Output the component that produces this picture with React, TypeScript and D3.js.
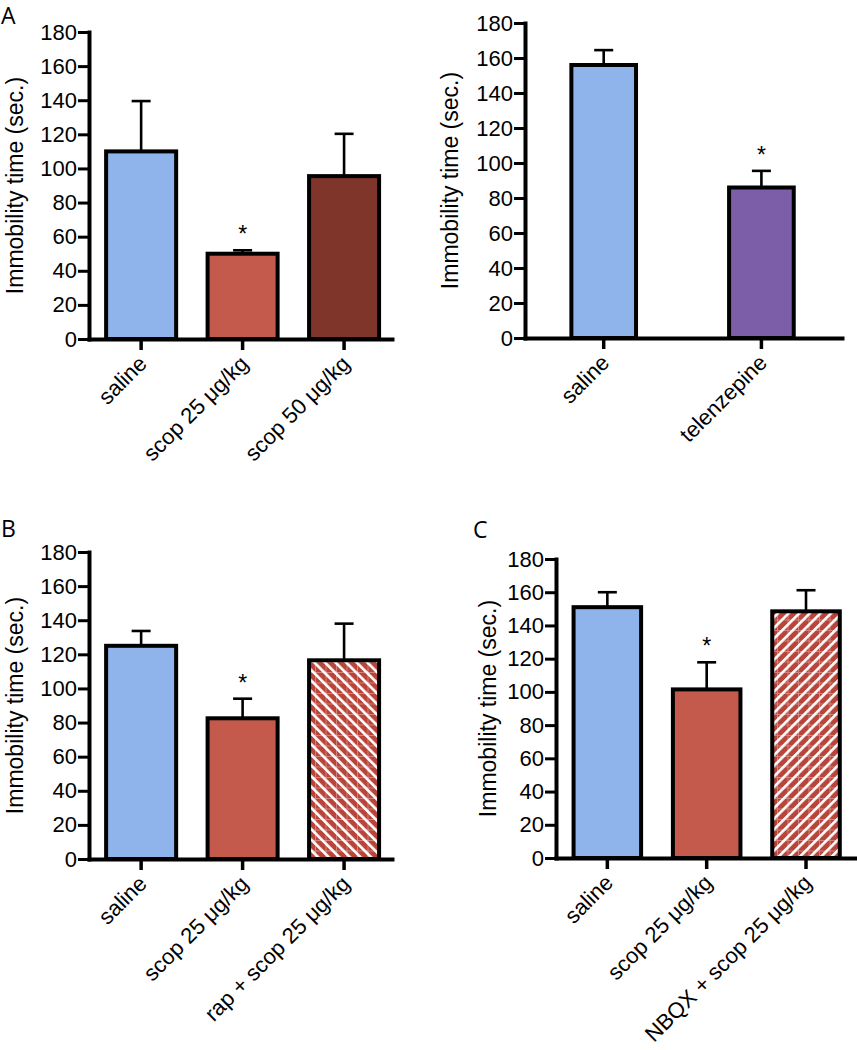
import React, { useRef, useEffect } from 'react';
import * as d3 from 'd3';

// values (seconds)
const yTicks = [0, 20, 40, 60, 80, 100, 120, 140, 160, 180];
const yLabel = 'Immobility time (sec.)';

const aCats = ['saline', 'scop 25 μg/kg', 'scop 50 μg/kg'];
const aMeans = [110, 50, 95.5];
const aErrs = [29.5, 2, 24.8];
const aSig = [false, true, false];
const aFills = ['#8fb4ec', '#c45a4b', '#7f352a'];

const tCats = ['saline', 'telenzepine'];
const tMeans = [156, 86];
const tErrs = [8.5, 9.5];
const tSig = [false, true];
const tFills = ['#8fb4ec', '#7b5ea7'];

const bCats = ['saline', 'scop 25 μg/kg', 'rap + scop 25 μg/kg'];
const bMeans = [125, 82.5, 116.5];
const bErrs = [8.7, 11.5, 21.5];
const bSig = [false, true, false];
const bFills = ['#8fb4ec', '#c45a4b', 'url(#hatchBack)'];

const cCats = ['saline', 'scop 25 μg/kg', 'NBQX + scop 25 μg/kg'];
const cMeans = [151, 101.5, 148.5];
const cErrs = [9, 16.3, 12.7];
const cSig = [false, true, false];
const cFills = ['#8fb4ec', '#c45a4b', 'url(#hatchFwd)'];

const FONT = 'Liberation Sans, Arial, sans-serif';

function Panel({ cats, means, errs, sig, fills, layout }) {
	const gRef = useRef();

	useEffect(() => {
		const g = d3.select(gRef.current);
		g.selectAll('*').remove();

		const { left, right, top, bottom, pi, po, align, labelX } = layout;

		const y = d3.scaleLinear().domain([0, 180]).range([bottom, top]);
		const x = d3
			.scaleBand()
			.domain(cats)
			.range([left, right])
			.paddingInner(pi)
			.paddingOuter(po)
			.align(align);

		const rows = cats.map((c, i) => ({
			cat: c,
			mean: means[i],
			err: errs[i],
			sig: sig[i],
			fill: fills[i],
		}));

		// error bars (up only), drawn first so the bar covers the stem
		const eb = g.append('g').attr('stroke', '#000').attr('stroke-width', 2.6);
		eb.selectAll('.stem')
			.data(rows)
			.join('line')
			.attr('class', 'stem')
			.attr('x1', (d) => x(d.cat) + x.bandwidth() / 2)
			.attr('x2', (d) => x(d.cat) + x.bandwidth() / 2)
			.attr('y1', (d) => y(d.mean))
			.attr('y2', (d) => y(d.mean + d.err));
		eb.selectAll('.cap')
			.data(rows)
			.join('line')
			.attr('class', 'cap')
			.attr('x1', (d) => x(d.cat) + x.bandwidth() / 2 - 9.5)
			.attr('x2', (d) => x(d.cat) + x.bandwidth() / 2 + 9.5)
			.attr('y1', (d) => y(d.mean + d.err))
			.attr('y2', (d) => y(d.mean + d.err));

		g.selectAll('.bar')
			.data(rows)
			.join('rect')
			.attr('class', 'bar')
			.attr('x', (d) => x(d.cat))
			.attr('y', (d) => y(d.mean))
			.attr('width', x.bandwidth())
			.attr('height', (d) => y(0) - y(d.mean))
			.attr('fill', (d) => d.fill)
			.attr('stroke', '#000')
			.attr('stroke-width', 4);

		// faint grid on the hatched bars
		g.selectAll('.grid')
			.data(rows.filter((d) => d.fill.startsWith('url')))
			.join('rect')
			.attr('class', 'grid')
			.attr('x', (d) => x(d.cat) + 2)
			.attr('y', (d) => y(d.mean) + 2)
			.attr('width', x.bandwidth() - 4)
			.attr('height', (d) => y(0) - y(d.mean) - 4)
			.attr('fill', 'url(#gridFine)');

		g.selectAll('.star')
			.data(rows.filter((d) => d.sig))
			.join('text')
			.attr('class', 'star')
			.attr('x', (d) => x(d.cat) + x.bandwidth() / 2)
			.attr('y', (d) => y(d.mean + d.err) - 8)
			.attr('text-anchor', 'middle')
			.attr('font-family', FONT)
			.attr('font-size', 23)
			.text('*');

		// y axis
		const yAxis = g
			.append('g')
			.attr('transform', `translate(${left},0)`)
			.call(
				d3.axisLeft(y).tickValues(yTicks).tickSize(11).tickSizeOuter(0).tickPadding(1)
			)
			.attr('font-family', FONT)
			.attr('font-size', 22);
		yAxis.select('.domain').attr('stroke-width', 4).attr('stroke-linecap', 'square');
		yAxis.selectAll('.tick line').attr('stroke-width', 3);
		yAxis.selectAll('.tick text').attr('fill', '#000');

		// x axis
		const xAxis = g
			.append('g')
			.attr('transform', `translate(0,${bottom})`)
			.call(d3.axisBottom(x).tickSize(11).tickSizeOuter(0))
			.attr('font-family', FONT)
			.attr('font-size', 22);
		xAxis.select('.domain').attr('stroke-width', 4).attr('stroke-linecap', 'square');
		xAxis.selectAll('.tick line').attr('stroke-width', 3.5);
		xAxis
			.selectAll('.tick text')
			.attr('fill', '#000')
			.attr('y', 0)
			.attr('dy', 0)
			.attr('text-anchor', 'end')
			.attr('transform', 'translate(7,26) rotate(-45)');

		g.append('text')
			.attr('transform', `translate(${labelX},${(top + bottom) / 2}) rotate(-90)`)
			.attr('text-anchor', 'middle')
			.attr('dominant-baseline', 'central')
			.attr('font-family', FONT)
			.attr('font-size', 23)
			.text(yLabel);
	}, [cats, means, errs, sig, fills, layout]);

	return <g ref={gRef}></g>;
}

const layoutA = { left: 89, right: 392, top: 32, bottom: 339, pi: 0.31, po: 0.148, align: 0.57, labelX: 15 };
const layoutT = { left: 525, right: 842, top: 23, bottom: 338, pi: 0.59, po: 0.3, align: 0.49, labelX: 450 };
const layoutB = { left: 89, right: 392, top: 552, bottom: 859, pi: 0.31, po: 0.148, align: 0.57, labelX: 15 };
const layoutC = { left: 556, right: 856, top: 559, bottom: 858, pi: 0.32, po: 0.17, align: 0.52, labelX: 488 };

export default function App() {
	const letter = { fontFamily: "'Open Sans', sans-serif", fontSize: 23 };
	return (
		<svg
			width={857}
			height={1050}
			style={{ position: 'absolute', left: 0, top: 0, background: '#fff' }}
		>
			<defs>
				<pattern id="hatchBack" width="7.5" height="7.5" patternUnits="userSpaceOnUse" patternTransform="rotate(-45)">
					<rect width="7.5" height="7.5" fill="#b8443a" />
					<rect width="2.6" height="7.5" fill="#fff" />
				</pattern>
				<pattern id="hatchFwd" width="7.5" height="7.5" patternUnits="userSpaceOnUse" patternTransform="rotate(45)">
					<rect width="7.5" height="7.5" fill="#b8443a" />
					<rect width="2.6" height="7.5" fill="#fff" />
				</pattern>
				<pattern id="gridFine" width="10.5" height="10.5" patternUnits="userSpaceOnUse">
					<path d="M0,0.5H10.5M0.5,0V10.5" stroke="#fff" strokeOpacity="0.35" strokeWidth="1" />
				</pattern>
			</defs>
			<text x={1} y={24} style={letter}>A</text>
			<text x={1} y={537} style={letter}>B</text>
			<text x={473} y={538} style={letter}>C</text>
			<Panel cats={aCats} means={aMeans} errs={aErrs} sig={aSig} fills={aFills} layout={layoutA} />
			<Panel cats={tCats} means={tMeans} errs={tErrs} sig={tSig} fills={tFills} layout={layoutT} />
			<Panel cats={bCats} means={bMeans} errs={bErrs} sig={bSig} fills={bFills} layout={layoutB} />
			<Panel cats={cCats} means={cMeans} errs={cErrs} sig={cSig} fills={cFills} layout={layoutC} />
		</svg>
	);
}
